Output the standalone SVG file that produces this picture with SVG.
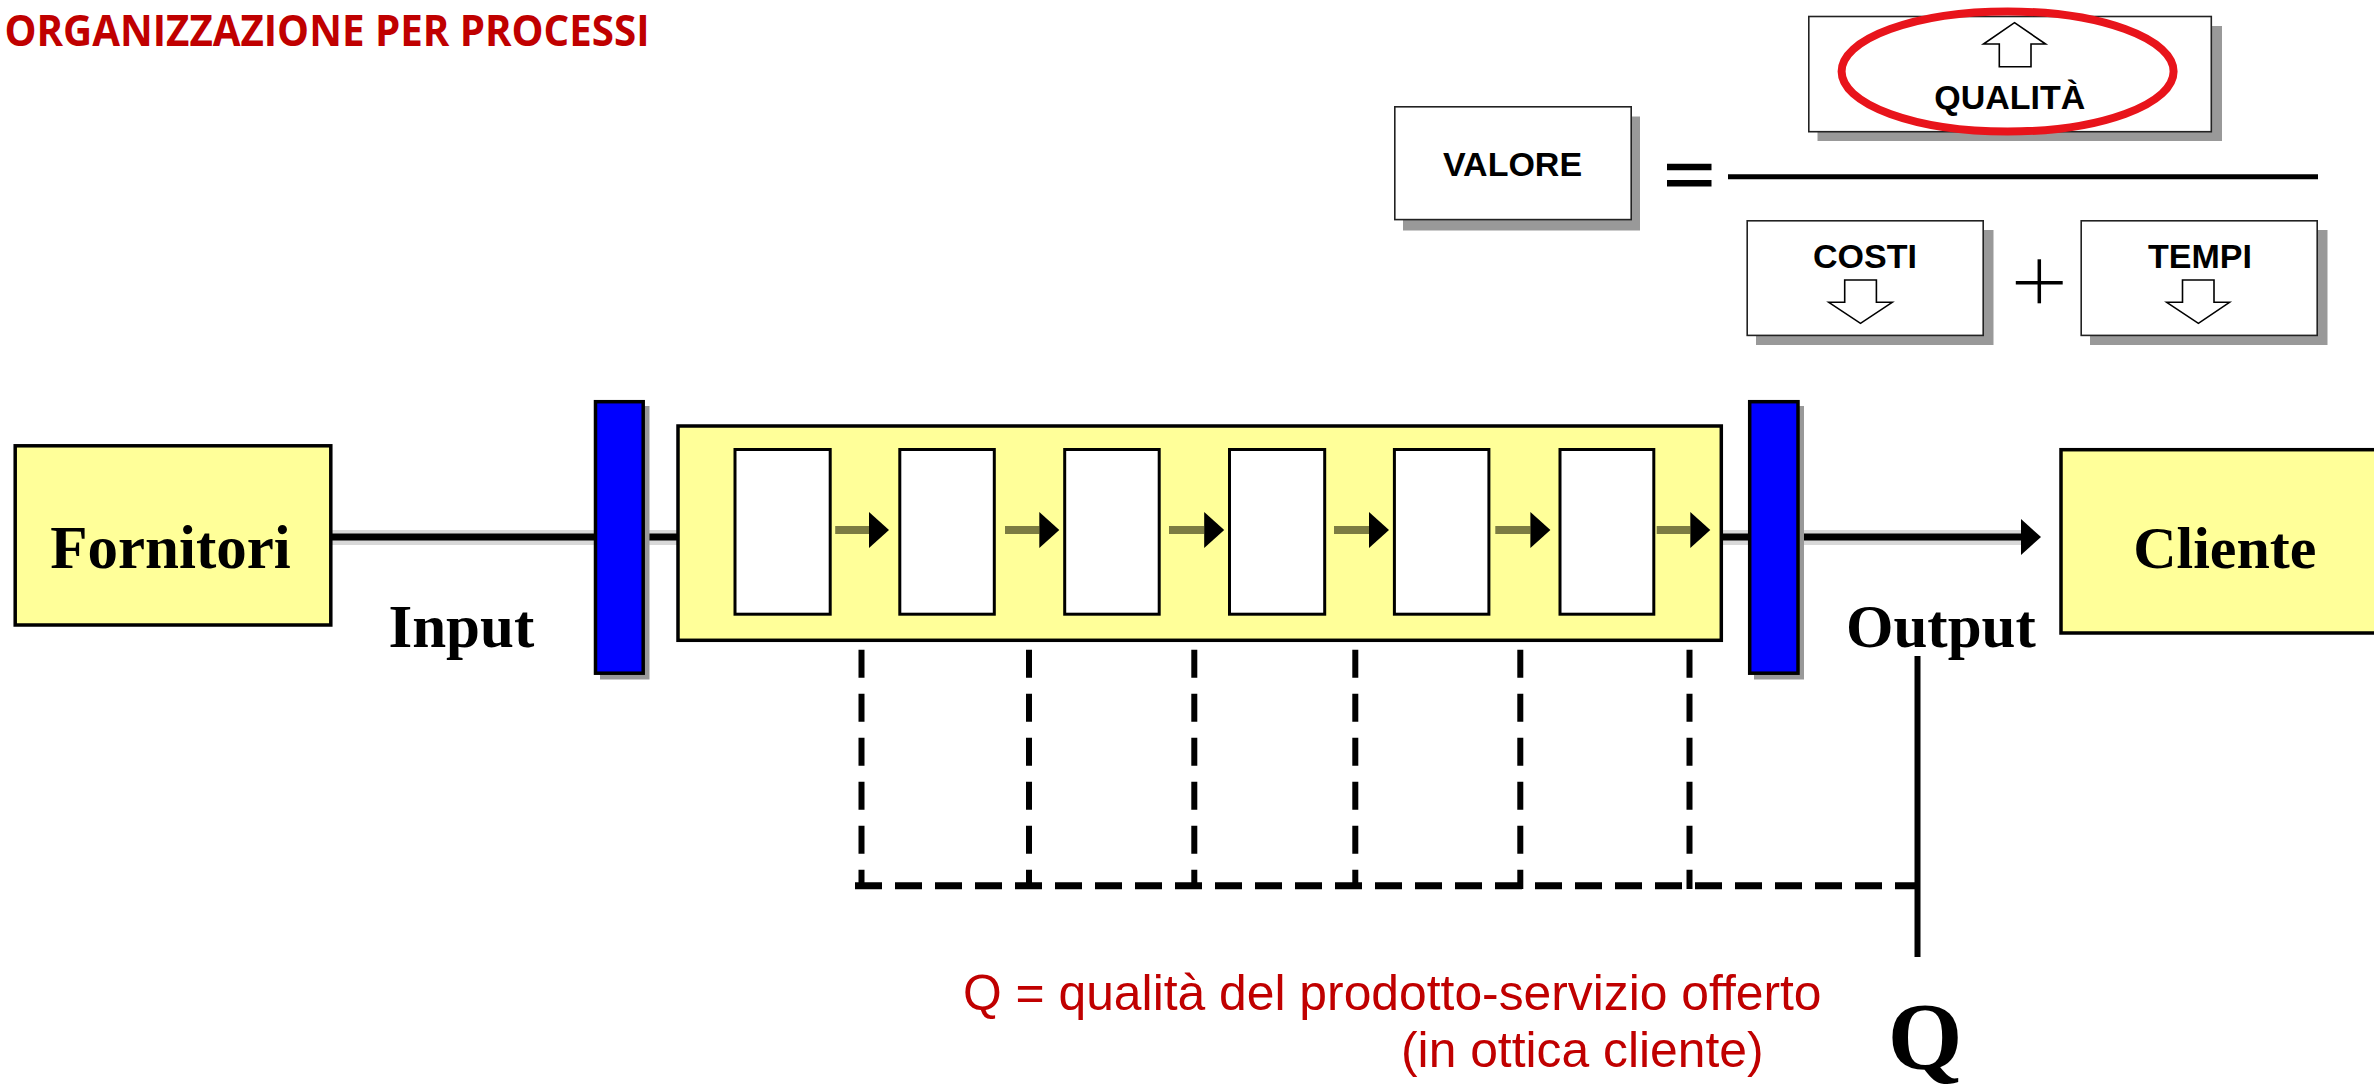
<svg xmlns="http://www.w3.org/2000/svg" width="2374" height="1088" viewBox="0 0 2374 1088">
<style>
.title{font-family:"Open Sans","Liberation Sans",sans-serif;font-weight:700;fill:#c00000}
.serif{font-family:"Liberation Serif","Times New Roman",serif;font-weight:700;fill:#000}
.sans{font-family:"Liberation Sans",Arial,sans-serif;font-weight:700;fill:#000;text-anchor:middle}
.note{font-family:"Liberation Sans",Arial,sans-serif;fill:#c00000}
.ybox{fill:#ffff99;stroke:#000;stroke-width:3.5}
.wbox{fill:#fff;stroke:#000;stroke-width:3}
.fbox{fill:#fff;stroke:#222;stroke-width:1.6}
.shadow{fill:#999}
.bar{fill:#0000ff;stroke:#000;stroke-width:3.5}
.halo{stroke:#d8d8d8;stroke-width:15;fill:none}
.main{stroke:#000;stroke-width:7;fill:none}
.dash{stroke:#000;stroke-width:6;fill:none}
.inner{stroke:#7c7c42;stroke-width:8;fill:none}
.harrow{fill:#fff;stroke:#000;stroke-width:1.6}
</style>
<defs>
<marker id="ah" markerUnits="userSpaceOnUse" markerWidth="22" markerHeight="36" refX="0" refY="18" orient="auto"><path d="M0,0 L20,18 L0,36 Z" fill="#000"/></marker>
</defs>

<text class="title" x="4.5" y="45.7" font-size="43" textLength="645" lengthAdjust="spacingAndGlyphs">ORGANIZZAZIONE PER PROCESSI</text>

<g id="formula">
  <g id="valore">
    <rect class="shadow" x="1403" y="116.5" width="237" height="114"/>
    <rect class="fbox" x="1394.8" y="106.8" width="236.4" height="112.8"/>
    <text class="sans" x="1512.5" y="175.7" font-size="34">VALORE</text>
  </g>
  <g id="uguale">
    <line x1="1667" y1="167" x2="1711.5" y2="167" stroke="#000" stroke-width="6.5"/>
    <line x1="1667" y1="183.3" x2="1711.5" y2="183.3" stroke="#000" stroke-width="6.5"/>
    <line x1="1728" y1="176.7" x2="2318" y2="176.7" stroke="#000" stroke-width="5"/>
  </g>
  <g id="qualita">
    <rect class="shadow" x="1817.5" y="26" width="404.5" height="115"/>
    <rect class="fbox" x="1808.8" y="16.5" width="402.5" height="115.2"/>
    <polygon class="harrow" points="2014.5,22.7 2045.6,44 2031,44 2031,66.7 1999.3,66.7 1999.3,44 1983.5,44"/>
    <text class="sans" x="2009.8" y="109" font-size="34">QUALITÀ</text>
    <ellipse cx="2007.6" cy="71.5" rx="166" ry="60" fill="none" stroke="#e8141b" stroke-width="8"/>
  </g>
  <g id="costi">
    <rect class="shadow" x="1756" y="230" width="237.5" height="115"/>
    <rect class="fbox" x="1747.2" y="220.8" width="236" height="114.6"/>
    <text class="sans" x="1865" y="268.3" font-size="34">COSTI</text>
    <polygon class="harrow" points="1844.7,280 1876.4,280 1876.4,302.3 1892.2,302.3 1860.5,323.3 1828.8,302.3 1844.7,302.3"/>
  </g>
  <g id="piu">
    <line x1="2039.3" y1="259.3" x2="2039.3" y2="303.3" stroke="#000" stroke-width="3.5"/>
    <line x1="2015.8" y1="282.7" x2="2062.7" y2="282.7" stroke="#000" stroke-width="3.5"/>
  </g>
  <g id="tempi">
    <rect class="shadow" x="2090" y="230" width="237.5" height="115"/>
    <rect class="fbox" x="2081.2" y="220.8" width="236" height="114.6"/>
    <text class="sans" x="2200" y="268.3" font-size="34">TEMPI</text>
    <polygon class="harrow" points="2182.5,280 2214,280 2214,302.3 2229.5,302.3 2198.4,323.3 2166.7,302.3 2182.5,302.3"/>
  </g>
</g>

<g id="connectors">
  <line class="halo" x1="332" y1="537.5" x2="594" y2="537.5"/>
  <line class="halo" x1="645" y1="537.5" x2="677" y2="537.5"/>
  <line class="halo" x1="1722" y1="537.5" x2="1749" y2="537.5"/>
  <line class="halo" x1="1800" y1="537.5" x2="2022" y2="537.5"/>
  <line class="main" x1="332" y1="537" x2="594" y2="537"/>
  <line class="main" x1="645" y1="537" x2="677" y2="537"/>
  <line class="main" x1="1722" y1="537" x2="1749" y2="537"/>
  <line class="main" x1="1800" y1="537" x2="2021" y2="537" marker-end="url(#ah)"/>
  <line class="dash" x1="861.5" y1="561.7" x2="861.5" y2="889" stroke-dasharray="28 16"/>
  <line class="dash" x1="1029" y1="561.7" x2="1029" y2="889" stroke-dasharray="28 16"/>
  <line class="dash" x1="1194.3" y1="561.7" x2="1194.3" y2="889" stroke-dasharray="28 16"/>
  <line class="dash" x1="1355.3" y1="561.7" x2="1355.3" y2="889" stroke-dasharray="28 16"/>
  <line class="dash" x1="1520.3" y1="561.7" x2="1520.3" y2="889" stroke-dasharray="28 16"/>
  <line class="dash" x1="1689.5" y1="561.7" x2="1689.5" y2="889" stroke-dasharray="28 16"/>
  <line x1="855" y1="885.7" x2="1917" y2="885.7" stroke="#000" stroke-width="7" stroke-dasharray="27 13"/>
  <line x1="1917.5" y1="656" x2="1917.5" y2="957" stroke="#000" stroke-width="6"/>
</g>

<g id="fornitori">
  <rect class="ybox" x="15.2" y="445.8" width="315.6" height="179.2"/>
  <text class="serif" x="170.5" y="568.3" font-size="61" text-anchor="middle">Fornitori</text>
</g>
<text class="serif" x="388.4" y="646.7" font-size="61">Input</text>

<g id="barriera-input">
  <rect class="shadow" x="600" y="406" width="49.5" height="273.5"/>
  <rect class="bar" x="595.5" y="401.7" width="47.7" height="271.5"/>
</g>

<g id="processo">
  <rect class="ybox" x="678" y="426" width="1043.3" height="214.3" stroke-width="4"/>
  <rect class="wbox" x="735" y="449.5" width="95.2" height="164.7"/>
  <rect class="wbox" x="899.8" y="449.5" width="94.5" height="164.7"/>
  <rect class="wbox" x="1064.7" y="449.5" width="94.5" height="164.7"/>
  <rect class="wbox" x="1229.5" y="449.5" width="95.2" height="164.7"/>
  <rect class="wbox" x="1394.4" y="449.5" width="94.5" height="164.7"/>
  <rect class="wbox" x="1560" y="449.5" width="93.8" height="164.7"/>
  <line class="inner" x1="835.2" y1="530" x2="869" y2="530" marker-end="url(#ah)"/>
  <line class="inner" x1="1005" y1="530" x2="1039.3" y2="530" marker-end="url(#ah)"/>
  <line class="inner" x1="1169" y1="530" x2="1204.2" y2="530" marker-end="url(#ah)"/>
  <line class="inner" x1="1334" y1="530" x2="1369" y2="530" marker-end="url(#ah)"/>
  <line class="inner" x1="1495.3" y1="530" x2="1530.4" y2="530" marker-end="url(#ah)"/>
  <line class="inner" x1="1656.7" y1="530" x2="1690.3" y2="530" marker-end="url(#ah)"/>
</g>

<g id="barriera-output">
  <rect class="shadow" x="1754" y="406" width="50" height="273.5"/>
  <rect class="bar" x="1749.7" y="401.7" width="48.3" height="271.5"/>
</g>
<text class="serif" x="1846" y="646.7" font-size="61">Output</text>

<g id="cliente">
  <rect class="ybox" x="2061" y="449.7" width="400" height="183.3" stroke-width="4"/>
  <text class="serif" x="2224.8" y="568.3" font-size="60" text-anchor="middle">Cliente</text>
</g>

<g id="q">
  <text class="serif" x="1925" y="1069" font-size="96" text-anchor="middle">Q</text>
</g>

<g id="legenda">
  <text class="note" x="963" y="1010" font-size="49.8">Q = qualità del prodotto-servizio offerto</text>
  <text class="note" x="1401" y="1066.7" font-size="49.8">(in ottica cliente)</text>
</g>
</svg>
